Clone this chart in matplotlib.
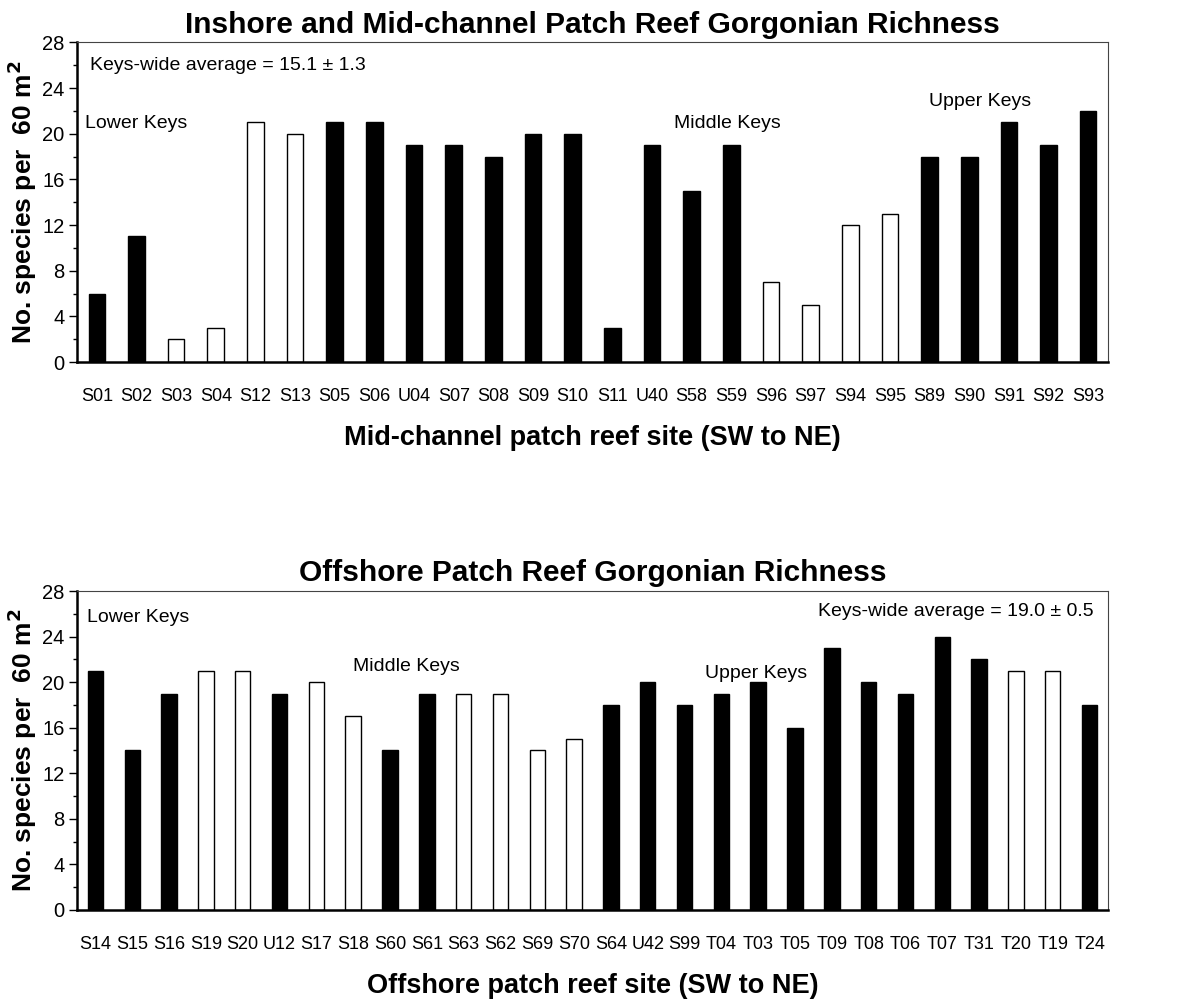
import matplotlib
matplotlib.use("Agg")
import matplotlib.pyplot as plt
from matplotlib.ticker import MultipleLocator

plt.rcParams['font.family'] = ['Liberation Sans', 'DejaVu Sans']

# Inshore / mid-channel sites
mid_sites = ['S01', 'S02', 'S03', 'S04', 'S12', 'S13', 'S05', 'S06', 'U04', 'S07',
             'S08', 'S09', 'S10', 'S11', 'U40', 'S58', 'S59', 'S96', 'S97', 'S94',
             'S95', 'S89', 'S90', 'S91', 'S92', 'S93']
mid_richness = [6, 11, 2, 3, 21, 20, 21, 21, 19, 19,
                18, 20, 20, 3, 19, 15, 19, 7, 5, 12,
                13, 18, 18, 21, 19, 22]
mid_inshore = ['S03', 'S04', 'S12', 'S13', 'S96', 'S97', 'S94', 'S95']

# Offshore sites
off_sites = ['S14', 'S15', 'S16', 'S19', 'S20', 'U12', 'S17', 'S18', 'S60', 'S61',
             'S63', 'S62', 'S69', 'S70', 'S64', 'U42', 'S99', 'T04', 'T03', 'T05',
             'T09', 'T08', 'T06', 'T07', 'T31', 'T20', 'T19', 'T24']
off_richness = [21, 14, 19, 21, 21, 19, 20, 17, 14, 19,
                19, 19, 14, 15, 18, 20, 18, 19, 20, 16,
                23, 20, 19, 24, 22, 21, 21, 18]
off_open = ['S19', 'S20', 'S17', 'S18', 'S63', 'S62', 'S69', 'S70', 'T20', 'T19']


def draw_panel(ax, sites, values, open_sites, title, xlabel):
    x = list(range(len(sites)))
    colors = ['white' if s in open_sites else 'black' for s in sites]
    ax.bar(x, values, width=0.42, color=colors, edgecolor='black', linewidth=1.0)
    ax.set_xlim(-0.5, len(sites) - 0.5)
    ax.set_ylim(0, 28)
    ax.yaxis.set_major_locator(MultipleLocator(4))
    ax.yaxis.set_minor_locator(MultipleLocator(2))
    ax.set_xticks(x)
    ax.set_xticklabels(sites, fontsize=13)
    ax.tick_params(axis='x', length=0, pad=19)
    ax.tick_params(axis='y', which='major', length=6, width=1, labelsize=14.5, pad=3)
    ax.tick_params(axis='y', which='minor', length=3, width=1)
    for side in ['left', 'bottom']:
        ax.spines[side].set_linewidth(1.8)
    for side in ['top', 'right']:
        ax.spines[side].set_linewidth(0.8)
        ax.spines[side].set_color('#444444')
    ax.set_title(title, fontsize=21.5, fontweight='bold', pad=7)
    ax.set_xlabel(xlabel, fontsize=19.5, fontweight='bold', labelpad=14)
    ax.set_ylabel('No. species per  60 m$^\\mathbf{2}$', fontsize=19,
                  fontweight='bold', labelpad=2)


fig = plt.figure(figsize=(11.85, 9.99), dpi=100)
ax1 = fig.add_axes([0.065, 0.6376, 0.870, 0.320])
ax2 = fig.add_axes([0.065, 0.0891, 0.870, 0.3193])

draw_panel(ax1, mid_sites, mid_richness, mid_inshore,
           'Inshore and Mid-channel Patch Reef Gorgonian Richness',
           'Mid-channel patch reef site (SW to NE)')
draw_panel(ax2, off_sites, off_richness, off_open,
           'Offshore Patch Reef Gorgonian Richness',
           'Offshore patch reef site (SW to NE)')

# annotations
ax1.text(-0.17, 26.0, 'Keys-wide average = 15.1 \u00b1 1.3', fontsize=14, va='center', ha='left')
ax1.text(-0.3, 20.9, 'Lower Keys', fontsize=14, va='center', ha='left')
ax1.text(14.56, 20.9, 'Middle Keys', fontsize=14, va='center', ha='left')
ax1.text(20.99, 22.8, 'Upper Keys', fontsize=14, va='center', ha='left')

ax2.text(-0.23, 25.7, 'Lower Keys', fontsize=14, va='center', ha='left')
ax2.text(7.0, 21.4, 'Middle Keys', fontsize=14, va='center', ha='left')
ax2.text(16.56, 20.8, 'Upper Keys', fontsize=14, va='center', ha='left')
ax2.text(27.12, 26.2, 'Keys-wide average = 19.0 \u00b1 0.5', fontsize=14, va='center', ha='right')

fig.savefig('out.png', dpi=100)
